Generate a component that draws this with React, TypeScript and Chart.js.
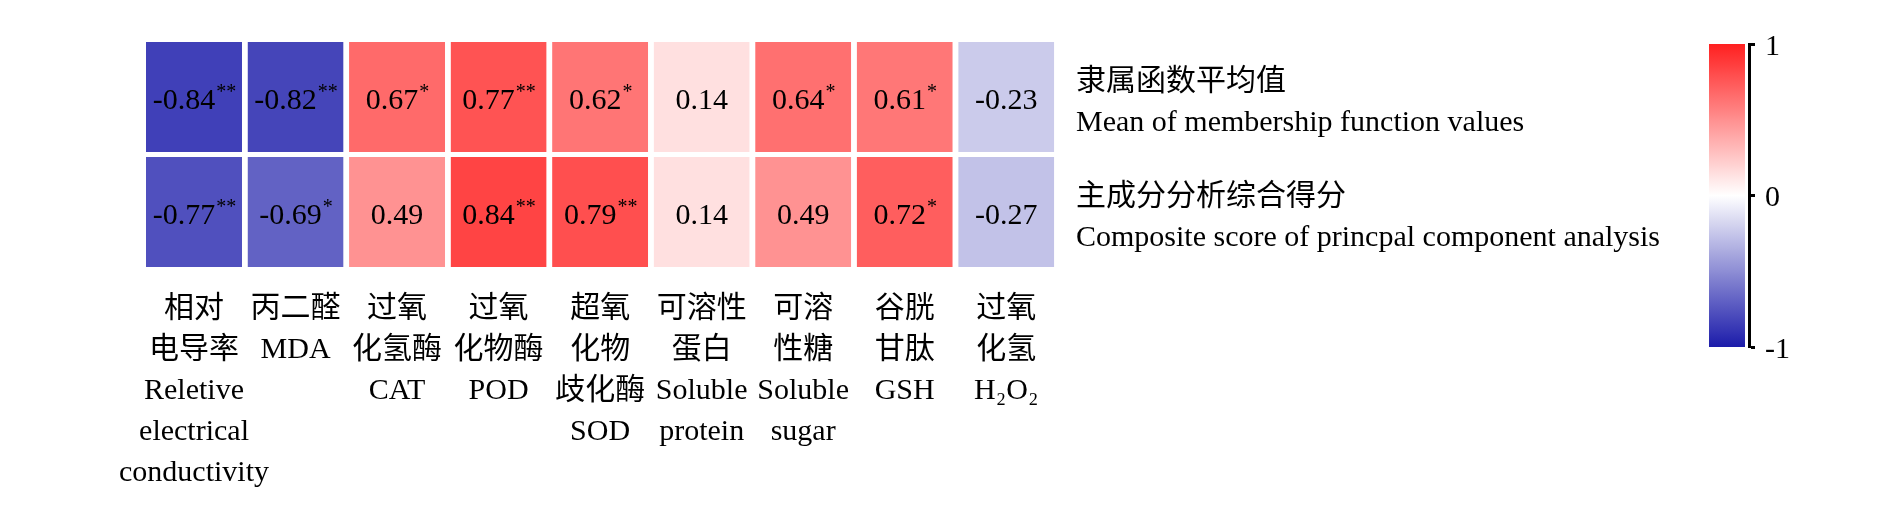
import React, { useEffect, useRef } from "react";
import { Chart, registerables } from "chart.js";

Chart.register(...registerables);

// ---------- data ----------
const categories: string[][] = [
  ["相对", "电导率", "Reletive", "electrical", "conductivity"],
  ["丙二醛", "MDA"],
  ["过氧", "化氢酶", "CAT"],
  ["过氧", "化物酶", "POD"],
  ["超氧", "化物", "歧化酶", "SOD"],
  ["可溶性", "蛋白", "Soluble", "protein"],
  ["可溶", "性糖", "Soluble", "sugar"],
  ["谷胱", "甘肽", "GSH"],
  ["过氧", "化氢", "H₂O₂"],
];

const rowLabels: string[][] = [
  ["隶属函数平均值", "Mean of membership function values"],
  ["主成分分析综合得分", "Composite score of princpal component analysis"],
];

const meanValues = [-0.84, -0.82, 0.67, 0.77, 0.62, 0.14, 0.64, 0.61, -0.23];
const meanStars = ["**", "**", "*", "**", "*", "", "*", "*", ""];
const pcaValues = [-0.77, -0.69, 0.49, 0.84, 0.79, 0.14, 0.49, 0.72, -0.27];
const pcaStars = ["**", "*", "", "**", "**", "", "", "*", ""];

const colorbarTicks = [-1, 0, 1];

// ---------- styling ----------
const FONT = '"Liberation Serif", "Times New Roman", "Noto Sans CJK SC", serif';
const W = 1890;
const H = 507;

function colorFor(v: number): string {
  const t = Math.max(-1, Math.min(1, v));
  if (t >= 0) {
    const c = Math.round(255 - t * (255 - 32));
    return `rgb(255,${c},${c})`;
  }
  const a = -t;
  const rg = Math.round(255 - a * (255 - 28));
  const b = Math.round(255 - a * (255 - 170));
  return `rgb(${rg},${rg},${b})`;
}

const cellTextPlugin = {
  id: "cellText",
  afterDatasetsDraw(chart: any) {
    const ctx = chart.ctx;
    ctx.save();
    ctx.fillStyle = "#000";
    ctx.textBaseline = "alphabetic";
    ctx.textAlign = "left";
    chart.data.datasets.forEach((ds: any, di: number) => {
      const meta = chart.getDatasetMeta(di);
      meta.data.forEach((el: any, i: number) => {
        const { x, y, base } = el.getProps(["x", "y", "base"], true);
        const cy = (y + base) / 2;
        const num = ds.values[i].toFixed(2);
        const st = ds.stars[i] || "";
        ctx.font = `30px ${FONT}`;
        const nw = ctx.measureText(num).width;
        ctx.font = `20px ${FONT}`;
        const sw = st ? ctx.measureText(st).width : 0;
        const start = x - (nw + sw) / 2;
        const baseline = cy + 12;
        ctx.font = `30px ${FONT}`;
        ctx.fillText(num, start, baseline);
        if (st) {
          ctx.font = `20px ${FONT}`;
          ctx.fillText(st, start + nw + 1, baseline - 11);
        }
      });
    });
    ctx.restore();
  },
};

export default function App() {
  const mainRef = useRef<HTMLCanvasElement | null>(null);
  const barRef = useRef<HTMLCanvasElement | null>(null);

  useEffect(() => {
    if (!mainRef.current || !barRef.current) return;
    const cellSpan = 1;

    const main = new Chart(mainRef.current, {
      type: "bar",
      data: {
        labels: categories as any,
        datasets: [
          {
            label: "pca",
            data: categories.map(() => cellSpan),
            values: pcaValues,
            stars: pcaStars,
            backgroundColor: (c: any) => colorFor(pcaValues[c.dataIndex]),
          } as any,
          {
            label: "mean",
            data: categories.map(() => cellSpan),
            values: meanValues,
            stars: meanStars,
            backgroundColor: (c: any) => colorFor(meanValues[c.dataIndex]),
          } as any,
        ],
      },
      options: {
        responsive: false,
        animation: false,
        events: [],
        layout: { padding: { left: 143.25, top: 39.5, right: 0, bottom: 0 } },
        datasets: {
          bar: {
            categoryPercentage: 1,
            barPercentage: 0.946,
            borderWidth: { top: 2.5, bottom: 2.5, left: 0, right: 0 },
            borderColor: "#ffffff",
            borderSkipped: false,
          },
        },
        plugins: {
          legend: { display: false },
          tooltip: { enabled: false },
          title: { display: false },
        },
        scales: {
          x: {
            type: "category",
            stacked: true,
            grid: { display: false, drawTicks: false },
            border: { display: false },
            ticks: {
              color: "#000",
              font: { family: FONT, size: 30, lineHeight: 41 / 30 },
              padding: 19,
              maxRotation: 0,
              minRotation: 0,
              autoSkip: false,
            },
            afterFit: (s: any) => {
              s.height = 237.5;
              s.paddingLeft = 0;
              s.paddingRight = 0;
            },
          },
          y: {
            type: "linear",
            stacked: true,
            min: 0,
            max: 2,
            display: false,
          },
          rows: {
            type: "category",
            labels: rowLabels as any,
            position: "right",
            offset: true,
            grid: { display: false, drawTicks: false },
            border: { display: false },
            ticks: {
              color: "#000",
              font: { family: FONT, size: 30, lineHeight: 41 / 30 },
              padding: 19,
              crossAlign: "near",
              labelOffset: 6,
            },
            afterFit: (s: any) => {
              s.width = 833;
              s.paddingTop = 0;
              s.paddingBottom = 0;
            },
          },
        } as any,
      },
      plugins: [cellTextPlugin],
    } as any);

    const cbar = new Chart(barRef.current, {
      type: "bar",
      data: {
        labels: ["colorbar"],
        datasets: [
          {
            data: [[colorbarTicks[0], colorbarTicks[colorbarTicks.length - 1]]] as any,
            backgroundColor: (c: any) => {
              const chart = c.chart;
              if (!chart.chartArea) return "#fff";
              const ys = chart.scales.y;
              const top = ys.getPixelForValue(1);
              const bottom = ys.getPixelForValue(-1);
              const g = chart.ctx.createLinearGradient(0, top, 0, bottom);
              const n = 40;
              for (let k = 0; k <= n; k++) {
                g.addColorStop(k / n, colorFor(1 - (2 * k) / n));
              }
              return g;
            },
            barPercentage: 0.818,
            categoryPercentage: 1,
            borderWidth: 0,
          },
        ],
      },
      options: {
        responsive: false,
        animation: false,
        events: [],
        layout: { padding: { left: 1705, top: 44, bottom: 160, right: 0 } },
        plugins: {
          legend: { display: false },
          tooltip: { enabled: false },
        },
        scales: {
          x: { type: "category", display: false },
          y: {
            type: "linear",
            position: "right",
            min: -1,
            max: 1,
            afterBuildTicks: (s: any) => {
              s.ticks = colorbarTicks.map((v) => ({ value: v }));
            },
            grid: {
              display: true,
              drawOnChartArea: false,
              drawTicks: true,
              tickLength: 6,
              tickWidth: 3,
              color: "#000",
            },
            border: { display: true, color: "#000", width: 3 },
            ticks: {
              color: "#000",
              font: { family: FONT, size: 30 },
              padding: 10,
              labelOffset: 3,
              callback: (v: any) => String(v),
            },
            afterFit: (s: any) => {
              s.width = W - 1749;
              s.paddingTop = 0;
              s.paddingBottom = 0;
            },
          },
        } as any,
      },
    } as any);

    return () => {
      main.destroy();
      cbar.destroy();
    };
  }, []);

  return (
    <div style={{ position: "absolute", left: 0, top: 0, width: W, height: H, background: "#fff" }}>
      <canvas ref={mainRef} width={W} height={H} style={{ position: "absolute", left: 0, top: 0 }} />
      <canvas ref={barRef} width={W} height={H} style={{ position: "absolute", left: 0, top: 0 }} />
    </div>
  );
}
